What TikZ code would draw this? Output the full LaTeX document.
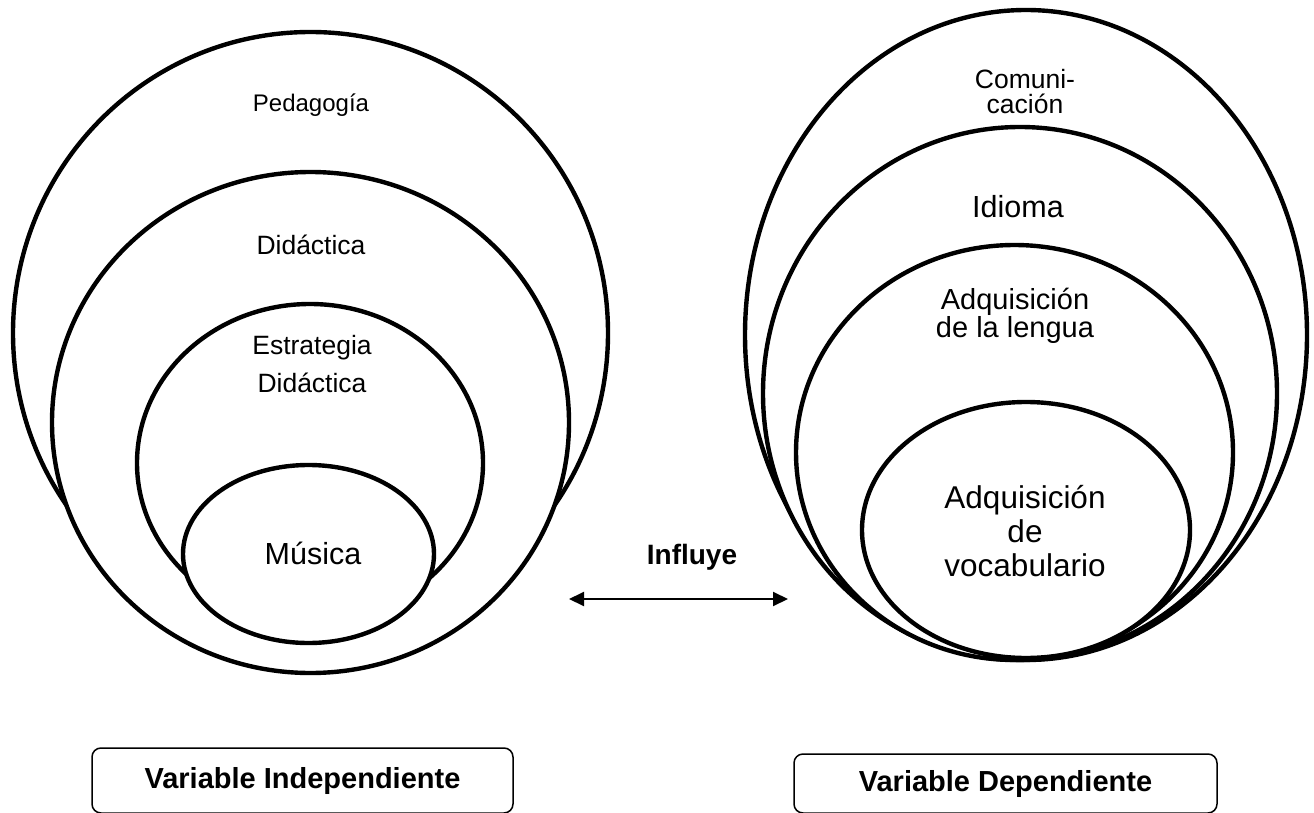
\documentclass[tikz,border=0pt]{standalone}
\usepackage{fontspec}
\setmainfont{Liberation Sans}
\usetikzlibrary{shapes.geometric,arrows.meta}
\begin{document}
\begin{tikzpicture}[x=1pt,y=-1pt,
  ell/.style={ellipse, draw=black, fill=white, line width=4.4pt, inner sep=0pt},
  lbl/.style={align=center, inner sep=0pt, text=black},
  vbox/.style={draw=black, line width=1.5pt, rounded corners=9pt, inner sep=0pt,
    font=\fontsize{29}{33}\bfseries\selectfont}
]
\useasboundingbox (0,0) rectangle (1314,813);
\fill[white] (0,0) rectangle (1314,813);

% left group
\node[ell, minimum width=595pt, minimum height=602pt] (ped) at (310.5,333) {};
\node[ell, minimum width=517pt, minimum height=501pt] (did) at (310.5,422.5) {};
\node[ell, minimum width=346pt, minimum height=318pt] (est) at (310,463) {};
\node[ell, minimum width=251pt, minimum height=178pt] (mus) at (308.5,554) {};

\node[lbl, font=\fontsize{24}{28}\selectfont] (tped) at (311,105) {Pedagogía};
\node[lbl, font=\fontsize{26.5}{30}\selectfont] (tdid) at (311,245) {Didáctica};
\node[lbl, font=\fontsize{26.5}{38}\selectfont] (test) at (312,364) {Estrategia\\Didáctica};
\node[lbl, font=\fontsize{30.5}{34}\selectfont] (tmus) at (313,553) {Música};

% right group
\node[ell, minimum width=562pt, minimum height=650pt] (com) at (1026,335) {};
\node[ell, minimum width=514pt, minimum height=533pt] (idi) at (1020,393.5) {};
\node[ell, minimum width=437pt, minimum height=415pt] (len) at (1014.5,452.5) {};
\node[ell, minimum width=328pt, minimum height=256pt] (voc) at (1026,530) {};

\node[lbl, font=\fontsize{26.5}{25}\selectfont] (tcom) at (1025,92) {Comuni-\\cación};
\node[lbl, font=\fontsize{30.5}{34}\selectfont] (tidi) at (1018,207) {Idioma};
\node[lbl, font=\fontsize{29}{28}\selectfont] (tlen) at (1015,316) {Adquisición\\de la lengua};
\node[lbl, font=\fontsize{31.5}{34}\selectfont] (tvoc) at (1025,531) {Adquisición\\de\\vocabulario};

% arrow
\coordinate (aL) at (569,599);
\coordinate (aR) at (788,599);
\draw[line width=2pt, {Triangle[length=15pt,width=14pt]}-{Triangle[length=15pt,width=14pt]}] (aL) -- (aR);
\node[lbl, font=\fontsize{28}{32}\bfseries\selectfont] (inf) at (692,557) {Influye};

% boxes
\node[vbox, minimum width=421pt, minimum height=65pt] (vi) at (302.5,780.5) {Variable Independiente};
\node[vbox, minimum width=423pt, minimum height=59pt] (vd) at (1005.5,783.5) {Variable Dependiente};
\end{tikzpicture}
\end{document}
